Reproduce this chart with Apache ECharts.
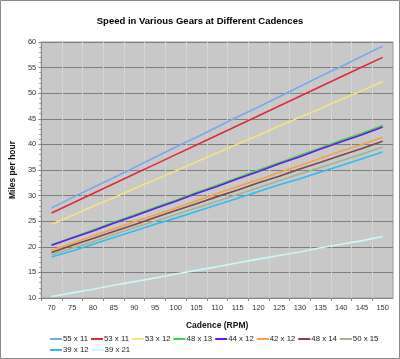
<!DOCTYPE html>
<html><head><meta charset="utf-8">
<script src="https://cdn.jsdelivr.net/npm/echarts@6/dist/echarts.min.js"></script>
<style>html,body{margin:0;padding:0;background:#fff}#c{width:400px;height:359px}</style>
</head><body><div id="c"></div>
<script>
const cadences = ['70','75','80','85','90','95','100','105','110','115','120','125','130','135','140','145','150'];
const gearNames = ['55 x 11','53 x 11','53 x 12','48 x 13','44 x 12','42 x 12','48 x 14','50 x 15','39 x 12','39 x 21'];
const s55x11 = [27.6,29.6,31.6,33.5,35.5,37.5,39.5,41.4,43.4,45.4,47.3,49.3,51.3,53.3,55.2,57.2,59.2];
const s53x11 = [26.6,28.5,30.4,32.3,34.2,36.1,38.0,39.9,41.8,43.7,45.6,47.5,49.4,51.3,53.2,55.1,57.0];
const s53x12 = [24.4,26.1,27.9,29.6,31.4,33.1,34.8,36.6,38.3,40.1,41.8,43.6,45.3,47.0,48.8,50.5,52.3];
const s48x13 = [20.4,21.8,23.3,24.8,26.2,27.7,29.1,30.6,32.0,33.5,35.0,36.4,37.9,39.3,40.8,42.2,43.7];
const s44x12 = [20.3,21.7,23.1,24.6,26.0,27.5,28.9,30.4,31.8,33.3,34.7,36.2,37.6,39.1,40.5,41.9,43.4];
const s42x12 = [19.3,20.7,22.1,23.5,24.9,26.2,27.6,29.0,30.4,31.8,33.1,34.5,35.9,37.3,38.7,40.0,41.4];
const s48x14 = [18.9,20.3,21.6,23.0,24.3,25.7,27.1,28.4,29.8,31.1,32.5,33.8,35.2,36.5,37.9,39.2,40.6];
const s50x15 = [18.4,19.7,21.0,22.4,23.7,25.0,26.3,27.6,28.9,30.2,31.6,32.9,34.2,35.5,36.8,38.1,39.5];
const s39x12 = [18.0,19.2,20.5,21.8,23.1,24.4,25.6,26.9,28.2,29.5,30.8,32.1,33.3,34.6,35.9,37.2,38.5];
const s39x21 = [10.3,11.0,11.7,12.5,13.2,13.9,14.7,15.4,16.1,16.9,17.6,18.3,19.0,19.8,20.5,21.2,22.0];
const seriesValues = [s55x11,s53x11,s53x12,s48x13,s44x12,s42x12,s48x14,s50x15,s39x12,s39x21];
const colors = ['#78a8ee','#e02a3a','#f4e37e','#3ed83e','#6a14f4','#f8a04a','#7c4646','#a2b496','#2cbcf6','#c8fafa'];

const font = 'Liberation Sans, Arial, sans-serif';
const chart = echarts.init(document.getElementById('c'));
chart.setOption({
  animation: false,
  backgroundColor: '#fff',
  color: colors,
  title: {
    text: 'Speed in Various Gears at Different Cadences',
    left: 'center', top: 11,
    textStyle: {fontFamily: font, fontSize: 9.5, fontWeight: 'bold', color: '#000'}
  },
  graphic: [{
    type: 'rect', shape: {x: 0.5, y: 0.5, width: 399, height: 358},
    style: {fill: 'none', stroke: '#8a8a8a', lineWidth: 1}, z: -1
  }],
  grid: {left: 33, right: 7, top: 42, bottom: 61, show: true,
    backgroundColor: '#c8c8c8', borderColor: '#9a9a9a', borderWidth: 1},
  legend: {
    data: gearNames,
    left: 50, top: 335, width: 345,
    itemWidth: 12, itemHeight: 2, itemGap: 3,
    icon: 'rect',
    textStyle: {fontFamily: font, fontSize: 7.8, color: '#222', padding: [0,0,0,-4]},
    padding: 0
  },
  xAxis: {
    type: 'category', data: cadences, boundaryGap: true,
    name: 'Cadence (RPM)', nameLocation: 'middle', nameGap: 23,
    nameTextStyle: {fontFamily: font, fontSize: 8.5, fontWeight: 'bold', color: '#111'},
    axisLine: {lineStyle: {color: '#888'}},
    axisTick: {show: true, length: 3, lineStyle: {color: '#888'}},
    axisLabel: {fontFamily: font, fontSize: 7.5, color: '#333', margin: 6, interval: 0},
    splitLine: {show: true, lineStyle: {color: '#d4d4d4', width: 1}}
  },
  yAxis: {
    type: 'value', min: 10, max: 60, interval: 5,
    name: 'Miles per hour', nameLocation: 'middle', nameGap: 20,
    nameTextStyle: {fontFamily: font, fontSize: 8.5, fontWeight: 'bold', color: '#111'},
    axisLine: {show: true, lineStyle: {color: '#888'}},
    axisTick: {show: true, length: 3, lineStyle: {color: '#888'}},
    minorTick: {show: true, splitNumber: 5, length: 2, lineStyle: {color: '#999'}},
    axisLabel: {fontFamily: font, fontSize: 7.5, color: '#333', margin: 5},
    splitLine: {show: true, lineStyle: {color: '#7e7e7e', width: 1}}
  },
  series: gearNames.map((n, i) => ({
    name: n, type: 'line', data: seriesValues[i],
    showSymbol: false, symbol: 'none',
    lineStyle: {width: 1.6, color: colors[i]},
    itemStyle: {color: colors[i]}
  }))
});
</script></body></html>
